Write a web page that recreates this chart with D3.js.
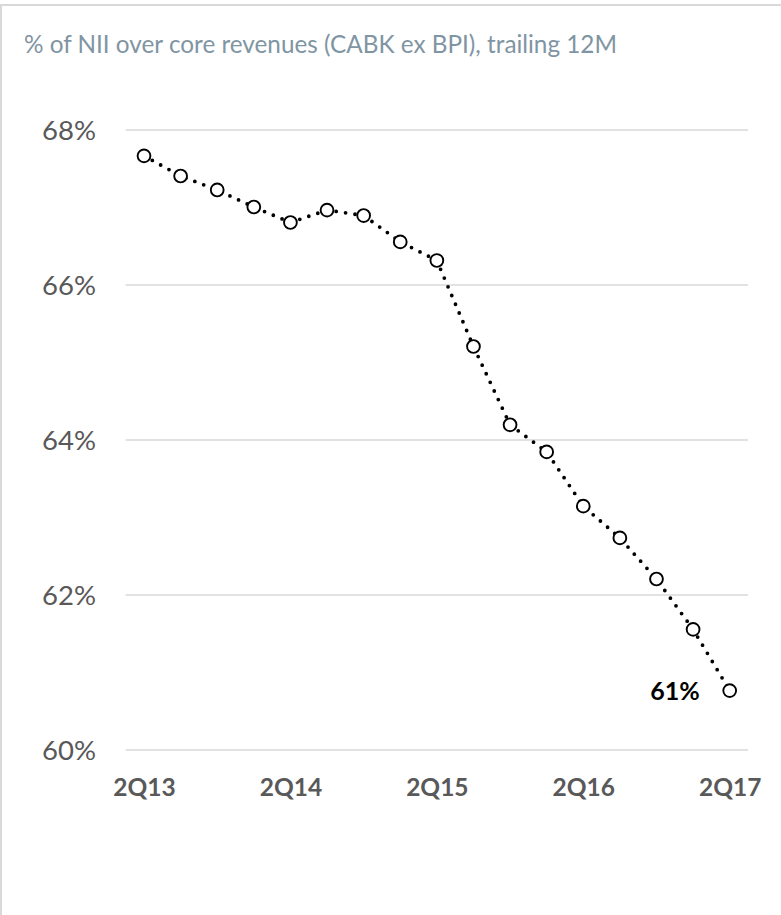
<!DOCTYPE html>
<html>
<head>
<meta charset="utf-8">
<script src="https://cdn.jsdelivr.net/npm/d3@7"></script>
<style>
  html, body { margin: 0; padding: 0; background: #ffffff; }
  svg { display: block; }
</style>
</head>
<body>
<svg id="chart" width="781" height="915"></svg>
<script>
// ---- data ----
const title = "% of NII over core revenues (CABK ex BPI), trailing 12M";
const categories = ["2Q13","3Q13","4Q13","1Q14","2Q14","3Q14","4Q14","1Q15","2Q15",
                    "3Q15","4Q15","1Q16","2Q16","3Q16","4Q16","1Q17","2Q17"];
const values = [67.66, 67.40, 67.22, 67.00, 66.80, 66.96, 66.89, 66.55, 66.31,
                65.20, 64.19, 63.84, 63.14, 62.73, 62.20, 61.55, 60.76];
const xTickLabels = ["2Q13","2Q14","2Q15","2Q16","2Q17"];
const yTicks = [60, 62, 64, 66, 68];
const lastLabel = "61%";

// ---- layout ----
const W = 781, H = 915;
const plot = { left: 125.7, right: 748, top: 129.5, bottom: 749.5 };
const svg = d3.select("#chart");

// frame (chart area border partially visible)
svg.append("line").attr("x1", 0).attr("x2", W).attr("y1", 5).attr("y2", 5)
  .attr("stroke", "#d9d9d9").attr("stroke-width", 2);
svg.append("line").attr("x1", 1).attr("x2", 1).attr("y1", 4).attr("y2", H)
  .attr("stroke", "#d9d9d9").attr("stroke-width", 2);

// title
svg.append("text")
  .attr("x", 24).attr("y", 52.5)
  .attr("font-family", "Lato, 'Open Sans', sans-serif")
  .attr("font-size", 24.3)
  .attr("fill", "#7f95a3")
  .text(title);

const x = d3.scalePoint().domain(categories).range([plot.left, plot.right]).padding(0.5);
const y = d3.scaleLinear().domain([60, 68]).range([plot.bottom, plot.top]);

// y axis with gridlines
const yAxis = d3.axisLeft(y).tickValues(yTicks)
  .tickSize(-(plot.right - plot.left)).tickPadding(30)
  .tickFormat(d => d + "%");
const gy = svg.append("g").attr("transform", `translate(${plot.left},0)`).call(yAxis);
gy.select(".domain").remove();
gy.selectAll(".tick line").attr("stroke", "#d9d9d9").attr("stroke-width", 1.5);
gy.selectAll(".tick text")
  .attr("x", 96 - plot.left)
  .attr("dy", "0.36em")
  .attr("font-family", "Lato, 'Open Sans', sans-serif")
  .attr("font-size", 27.5)
  .attr("fill", "#595959");

// x axis labels
const xAxis = d3.axisBottom(x).tickValues(xTickLabels).tickSize(0).tickPadding(0);
const gx = svg.append("g").attr("transform", `translate(0,${plot.bottom})`).call(xAxis);
gx.select(".domain").remove();
gx.selectAll(".tick text")
  .attr("y", 46.5).attr("dy", 0)
  .attr("font-family", "Lato, 'Open Sans', sans-serif")
  .attr("font-weight", "bold")
  .attr("font-size", 24.5)
  .attr("fill", "#595959");

// dotted line
const line = d3.line().x((d, i) => x(categories[i])).y(d => y(d));
svg.append("path")
  .datum(values)
  .attr("d", line)
  .attr("fill", "none")
  .attr("stroke", "#000000")
  .attr("stroke-width", 3.8)
  .attr("stroke-linecap", "round")
  .attr("stroke-dasharray", "0 9.5");

// markers
svg.append("g").selectAll("circle")
  .data(values)
  .join("circle")
  .attr("cx", (d, i) => x(categories[i]))
  .attr("cy", d => y(d))
  .attr("r", 6.4)
  .attr("fill", "#ffffff")
  .attr("stroke", "#000000")
  .attr("stroke-width", 1.9);

// last value label
const lastIdx = values.length - 1;
svg.append("text")
  .attr("x", x(categories[lastIdx]) - 30)
  .attr("y", y(values[lastIdx]))
  .attr("dy", "0.36em")
  .attr("text-anchor", "end")
  .attr("font-family", "Lato, 'Open Sans', sans-serif")
  .attr("font-weight", "bold")
  .attr("font-size", 25)
  .attr("fill", "#000000")
  .text(lastLabel);
</script>
</body>
</html>
